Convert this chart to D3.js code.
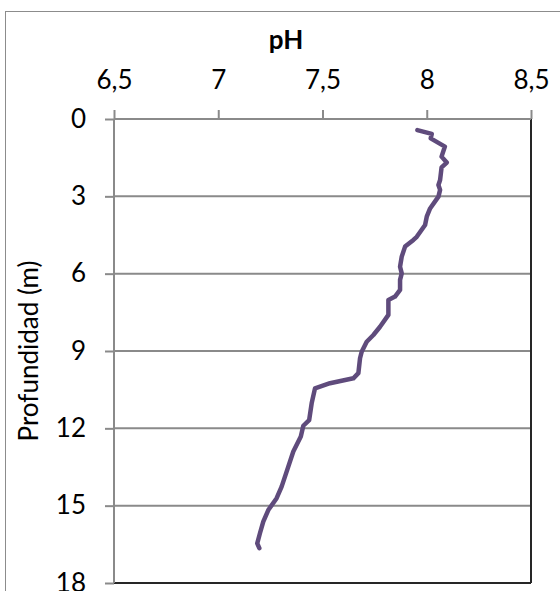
<!DOCTYPE html>
<html>
<head>
<meta charset="utf-8">
<script src="https://cdn.jsdelivr.net/npm/d3@7"></script>
<style>
  html, body { margin: 0; padding: 0; background: #fff; }
  svg { display: block; }
  text { font-family: Lato, "Open Sans", sans-serif; fill: #000; }
</style>
</head>
<body>
<svg id="chart" width="560" height="591"></svg>
<script>
// Data (depth in m, pH)
const depth = [0.43, 0.58, 0.75, 1.07, 1.46, 1.69, 1.88, 2.37, 2.56, 2.75, 3.01, 3.47, 3.79, 4.11, 4.57, 4.69, 4.95, 5.34, 5.73, 5.99, 6.24, 6.63, 6.89, 7.02, 7.34, 7.6, 8.06, 8.38, 8.64, 9.03, 9.28, 9.86, 10.06, 10.25, 10.45, 11.03, 11.68, 11.9, 12.32, 12.9, 13.68, 14.26, 14.71, 15.17, 15.62, 16.07, 16.46, 16.65];
const ph    = [7.955, 8.024, 8.019, 8.087, 8.071, 8.096, 8.071, 8.064, 8.056, 8.064, 8.056, 8.016, 8.0, 7.992, 7.952, 7.936, 7.896, 7.880, 7.872, 7.880, 7.872, 7.872, 7.848, 7.816, 7.816, 7.816, 7.776, 7.744, 7.712, 7.688, 7.680, 7.672, 7.648, 7.536, 7.464, 7.448, 7.436, 7.408, 7.396, 7.360, 7.328, 7.304, 7.280, 7.240, 7.216, 7.200, 7.187, 7.197];
const xTicks = [6.5, 7, 7.5, 8, 8.5];
const yTicks = [0, 3, 6, 9, 12, 15, 18];
const titleText = "pH";
const yLabelText = "Profundidad (m)";

const svg = d3.select("#chart");
const plot = { left: 114, right: 531, top: 119, bottom: 583 };

const x = d3.scaleLinear().domain([6.5, 8.5]).range([plot.left, plot.right]);
const y = d3.scaleLinear().domain([0, 18]).range([plot.top, plot.bottom]);
const fmt = d => String(d).replace(".", ",");
const FONT = "Lato, sans-serif";

// chart area border
svg.append("rect")
  .attr("x", 5.5).attr("y", 11.5)
  .attr("width", 620).attr("height", 620)
  .attr("fill", "#fff").attr("stroke", "#8c8c8c").attr("stroke-width", 1);

// horizontal gridlines
svg.append("g").selectAll("line")
  .data(yTicks.filter(d => d > 0 && d < 18))
  .join("line")
  .attr("x1", plot.left).attr("x2", plot.right)
  .attr("y1", d => y(d)).attr("y2", d => y(d))
  .attr("stroke", "#8a8a8a").attr("stroke-width", 2);

// plot area border (right and bottom dark)
svg.append("line")
  .attr("x1", plot.right).attr("x2", plot.right)
  .attr("y1", plot.top).attr("y2", plot.bottom)
  .attr("stroke", "#262626").attr("stroke-width", 2);
svg.append("line")
  .attr("x1", plot.left).attr("x2", plot.right)
  .attr("y1", plot.bottom).attr("y2", plot.bottom)
  .attr("stroke", "#262626").attr("stroke-width", 2);

// top x axis
const xAxis = d3.axisTop(x).tickValues(xTicks).tickSize(9).tickPadding(21).tickFormat(fmt);
const gx = svg.append("g").attr("transform", `translate(0,${plot.top})`).call(xAxis);
gx.select(".domain").attr("stroke", "#8a8a8a").attr("stroke-width", 2)
  .attr("d", `M${plot.left},0H${plot.right}`);
gx.selectAll(".tick line").attr("stroke", "#8a8a8a").attr("stroke-width", 2);
gx.selectAll(".tick text").style("font-size", "26px").style("font-family", FONT).attr("fill", "#000");

// left y axis
const yAxis = d3.axisLeft(y).tickValues(yTicks).tickSize(9).tickPadding(19).tickFormat(fmt);
const gy = svg.append("g").attr("transform", `translate(${plot.left},0)`).call(yAxis);
gy.select(".domain").attr("stroke", "#8a8a8a").attr("stroke-width", 2)
  .attr("d", `M0,${plot.top}V${plot.bottom}`);
gy.selectAll(".tick line").attr("stroke", "#8a8a8a").attr("stroke-width", 2);
gy.selectAll(".tick text").style("font-size", "26px").style("font-family", FONT).attr("fill", "#000");

// data line
const line = d3.line().x(d => x(d[1])).y(d => y(d[0])).curve(d3.curveLinear);
svg.append("path")
  .datum(depth.map((d, i) => [d, ph[i]]))
  .attr("d", line)
  .attr("fill", "none")
  .attr("stroke", "#5f4b7c")
  .attr("stroke-width", 4.5)
  .attr("stroke-linejoin", "round")
  .attr("stroke-linecap", "round");

// title
svg.append("text")
  .attr("x", 286).attr("y", 49)
  .attr("text-anchor", "middle")
  .style("font-size", "26px").style("font-weight", "bold").style("font-family", FONT)
  .text(titleText);

// y label
svg.append("text")
  .attr("transform", `translate(38,${(plot.top + plot.bottom) / 2}) rotate(-90)`)
  .attr("text-anchor", "middle")
  .style("font-size", "26px").style("font-family", FONT)
  .text(yLabelText);
</script>
</body>
</html>
